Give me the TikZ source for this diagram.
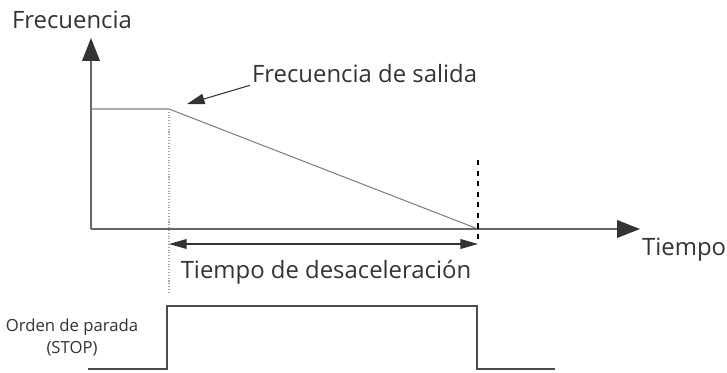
\documentclass[tikz,border=0pt]{standalone}
\usepackage{fontspec}
\setmainfont{Open Sans}
\usetikzlibrary{arrows.meta,positioning}

\begin{document}
\begin{tikzpicture}[
  x=0.02cm,y=-0.02cm,
  font=\fontsize{13.6}{15}\selectfont,
  text=black!80,
  label/.style={inner sep=1pt},
  axis/.style={draw=black!60,line width=0.9pt,-{Triangle[length=13pt,width=10pt,color=black!80]}},
  curve/.style={draw=black!50,line width=0.6pt},
  span/.style={draw=black!80,line width=0.8pt,{Triangle[length=10pt,width=5.5pt]}-{Triangle[length=10pt,width=5.5pt]}},
  pointer/.style={draw=black!80,line width=0.6pt,-{Triangle[length=10pt,width=6pt]}},
  signal/.style={draw=black!70,line width=0.7pt},
  small/.style={font=\fontsize{9.5}{12.5}\selectfont,align=center}
]
\useasboundingbox (0,0) rectangle (727,372);

% axes
\coordinate (o) at (91,229);
\coordinate (ytop) at (91,38);
\coordinate (xend) at (640,229);
\draw[axis] (o) -- (ytop);
\draw[axis] (o) -- (xend);

% output frequency
\coordinate (f0) at (91,109);
\coordinate (f1) at (169,109);
\coordinate (f2) at (478,229);
\draw[curve] (f0) -- (f1) -- (f2);

% guide lines
\coordinate (g1) at (169,292);
\coordinate (d0) at (478,160);
\coordinate (d1) at (478,244);
\coordinate (s1) at (169,244);
\draw[black!35,densely dotted,line width=0.6pt] (f1) -- (g1);
\draw[black,dashed,line width=0.8pt] (d0) -- (d1);
\draw[span] (s1) -- (d1);

% labels
\node[label,anchor=west] (freq) at (10,20) {Frecuencia};
\node[label,anchor=west] (tiempo) at (640,250) {Tiempo};
\node[label,anchor=west] (salida) at (250,74) {Frecuencia de salida};
\node[label] (desac) at (326,272) {Tiempo de desaceleraci\'on};
\coordinate (tip) at (187,104);
\draw[pointer] (salida.south west) -- (tip);

% stop command
\coordinate (a0) at (88,369);
\coordinate (a1) at (167,369);
\coordinate (a2) at (167,306);
\coordinate (a3) at (477,306);
\coordinate (a4) at (477,369);
\coordinate (a5) at (555,369);
\draw[signal] (a0) -- (a1) -- (a2) -- (a3) -- (a4) -- (a5);
\node[small] (orden) at (72,337) {Orden de parada\\(STOP)};
\end{tikzpicture}
\end{document}
